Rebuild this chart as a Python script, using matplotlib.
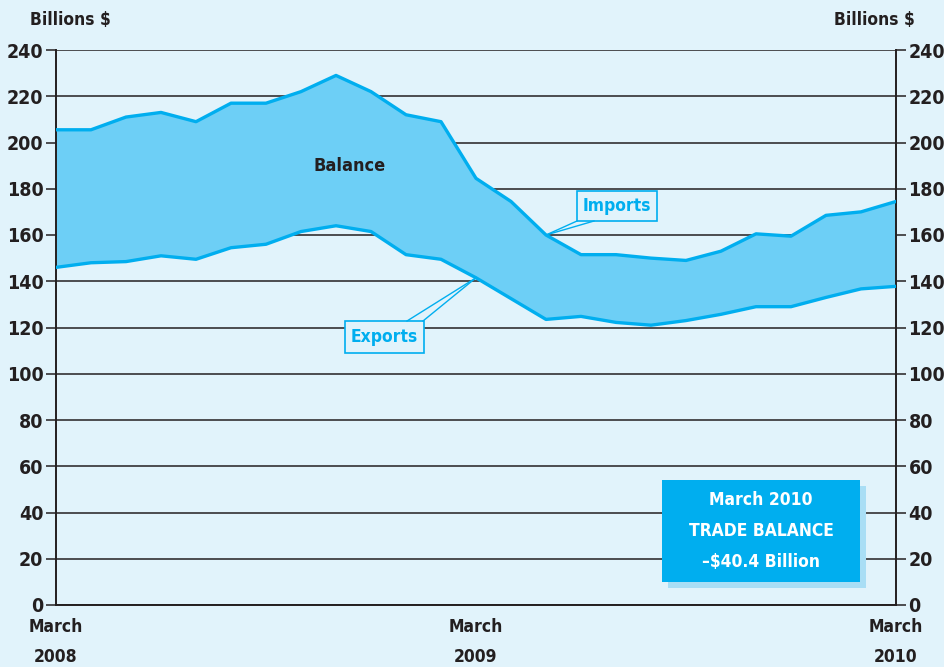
import matplotlib.pyplot as plt
from matplotlib.patches import Rectangle
from matplotlib import font_manager

# monthly values, March 2008 .. March 2010 (billions $)
months = list(range(25))
imports = [205.5, 205.5, 211, 213, 209, 217, 217, 222, 229, 222, 212, 209,
           184.5, 174.5, 160, 151.5, 151.5, 150, 149, 153, 160.5, 159.5, 168.5, 170, 174.5]
exports = [146, 148, 148.5, 151, 149.5, 154.5, 156, 161.5, 164, 161.5, 151.5, 149.5,
           141.5, 132.5, 123.5, 124.8, 122.2, 121, 123, 125.7, 129, 129, 133, 136.7, 137.8]
x_ticks = [0, 12, 24]
x_labels = ["March\n2008", "March\n2009", "March\n2010"]
y_ticks = list(range(0, 241, 20))

# look for a condensed bold face
cond = [f for f in font_manager.fontManager.ttflist
        if 'ondensed' in f.fname or 'arrow' in f.fname]
family = cond[0].name if cond else "DejaVu Sans"
plt.rcParams['font.family'] = [family, 'DejaVu Sans']
plt.rcParams['font.stretch'] = 'condensed'
plt.rcParams['font.weight'] = 'bold'

bg = "#e1f3fb"
line_c = "#00aeef"
fill_c = "#6dcff6"
ink = "#231f20"

fig = plt.figure(figsize=(9.44, 6.67), dpi=100, facecolor=bg)
ax = fig.add_axes([56/944, 1-605/667, 840/944, 555/667])
ax.set_facecolor(bg)

ax.set_xlim(0, 24)
ax.set_ylim(0, 240)

# grid lines
for v in y_ticks:
    ax.axhline(v, color=ink, lw=1.1, zorder=1)

ax.fill_between(months, exports, imports, color=fill_c, zorder=2, lw=0)
ax.plot(months, imports, color=line_c, lw=2.4, zorder=3)
ax.plot(months, exports, color=line_c, lw=2.4, zorder=3)

ax.spines["top"].set_visible(False)
for s in ["left", "right", "bottom"]:
    ax.spines[s].set_color(ink)
    ax.spines[s].set_linewidth(1.4)

ax.set_yticks(y_ticks)
ax.set_yticklabels([str(v) for v in y_ticks])
ax.tick_params(axis='y', which='both', left=True, right=True, labelleft=True, labelright=True,
               direction='out', length=7, width=1.1, color=ink, labelsize=14, labelcolor=ink, pad=2)
ax.set_xticks(x_ticks)
ax.set_xticklabels(x_labels, linespacing=1.9)
ax.tick_params(axis='x', length=0, labelsize=12.5, labelcolor=ink, pad=9)

# axis titles
fig.text(30/944, 1-20/667, "Billions $", fontsize=12.5, color=ink, ha='left', va='center')
fig.text(915/944, 1-20/667, "Billions $", fontsize=12.5, color=ink, ha='right', va='center')

ax.text(8.4, 190, "Balance", fontsize=13, color=ink, ha='center', va='center', zorder=5)

def ax_xy(px, py):
    return ((px - 56) / 840, (605 - py) / 555)

# Imports callout
x0, y0 = ax_xy(577, 221)
x1, y1 = ax_xy(657, 191)
ax.add_patch(Rectangle((x0, y0), x1 - x0, y1 - y0, transform=ax.transAxes, facecolor=bg,
                       edgecolor=line_c, lw=1.2, zorder=6, clip_on=False))
ax.text((x0 + x1) / 2, (y0 + y1) / 2, "Imports", transform=ax.transAxes, fontsize=12.5,
        color=line_c, ha='center', va='center', zorder=7)
for bx in (577, 594):
    a = ax.transAxes.inverted().transform(ax.transData.transform((14, 160)))
    b = ax_xy(bx, 221)
    ax.plot([a[0], b[0]], [a[1], b[1]], transform=ax.transAxes, color=line_c, lw=1, zorder=6)

# Exports callout
x0, y0 = ax_xy(345, 353)
x1, y1 = ax_xy(424, 321)
ax.add_patch(Rectangle((x0, y0), x1 - x0, y1 - y0, transform=ax.transAxes, facecolor=bg,
                       edgecolor=line_c, lw=1.2, zorder=6, clip_on=False))
ax.text((x0 + x1) / 2, (y0 + y1) / 2, "Exports", transform=ax.transAxes, fontsize=12.5,
        color=line_c, ha='center', va='center', zorder=7)
for bx in (407, 423):
    a = ax.transAxes.inverted().transform(ax.transData.transform((12, 141.5)))
    b = ax_xy(bx, 321)
    ax.plot([a[0], b[0]], [a[1], b[1]], transform=ax.transAxes, color=line_c, lw=1, zorder=6)

# trade balance box with shadow
x0, y0 = ax_xy(662, 582)
x1, y1 = ax_xy(860, 480)
dx, dy = 6 / 840, -6 / 555
ax.add_patch(Rectangle((x0 + dx, y0 + dy), x1 - x0, y1 - y0, transform=ax.transAxes,
                       facecolor="#a9def5", lw=0, zorder=6))
ax.add_patch(Rectangle((x0, y0), x1 - x0, y1 - y0, transform=ax.transAxes,
                       facecolor=line_c, lw=0, zorder=7))
ax.text((x0 + x1) / 2, (y0 + y1) / 2, "March 2010\nTRADE BALANCE\n\u2013$40.4 Billion",
        transform=ax.transAxes, fontsize=12.5, color="white", ha='center', va='center',
        linespacing=1.95, zorder=8)

fig.savefig("out.png", dpi=100, facecolor=bg)
